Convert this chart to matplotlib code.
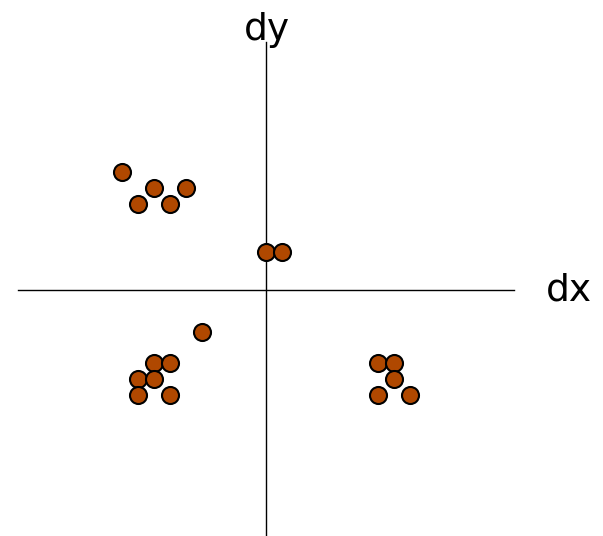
import matplotlib
matplotlib.use("Agg")
import matplotlib.pyplot as plt

# point positions (grid units)
dx = [-9, -7, -5, -8, -6,
      0, 1,
      -4,
      -7, -6, -8, -7, -8, -6,
      7, 8, 8, 7, 9]
dy = [7.35, 6.35, 6.35, 5.35, 5.35,
      2.35, 2.35,
      -2.65,
      -4.6, -4.6, -5.6, -5.6, -6.6, -6.6,
      -4.6, -4.6, -5.6, -6.6, -6.6]

axis_extent = 15.5
x_label = "dx"
y_label = "dy"

plt.rcParams['font.family'] = ['DejaVu Sans']

fig = plt.figure(figsize=(6.03, 5.36), dpi=100)
ax = fig.add_axes([0, 0, 1, 1])
ax.set_xlim(-265.5 / 16, (603 - 265.5) / 16)
ax.set_ylim((289.5 - 536) / 16, 289.5 / 16)
ax.axis('off')

# cross-shaped axes
ax.plot([-axis_extent, axis_extent], [0, 0], color='black', lw=1.0, zorder=1)
ax.plot([0, 0], [-axis_extent, axis_extent], color='black', lw=1.0, zorder=1)

ax.scatter(dx, dy, s=150, color='#b04800', edgecolors='black',
           linewidths=1.5, zorder=3)

ax.text(0.1, 15.6, y_label, ha='center', va='baseline', fontsize=27)
ax.text(17.5, -0.66, x_label, ha='left', va='baseline', fontsize=27)

plt.savefig("out.png", dpi=100)
plt.close()
